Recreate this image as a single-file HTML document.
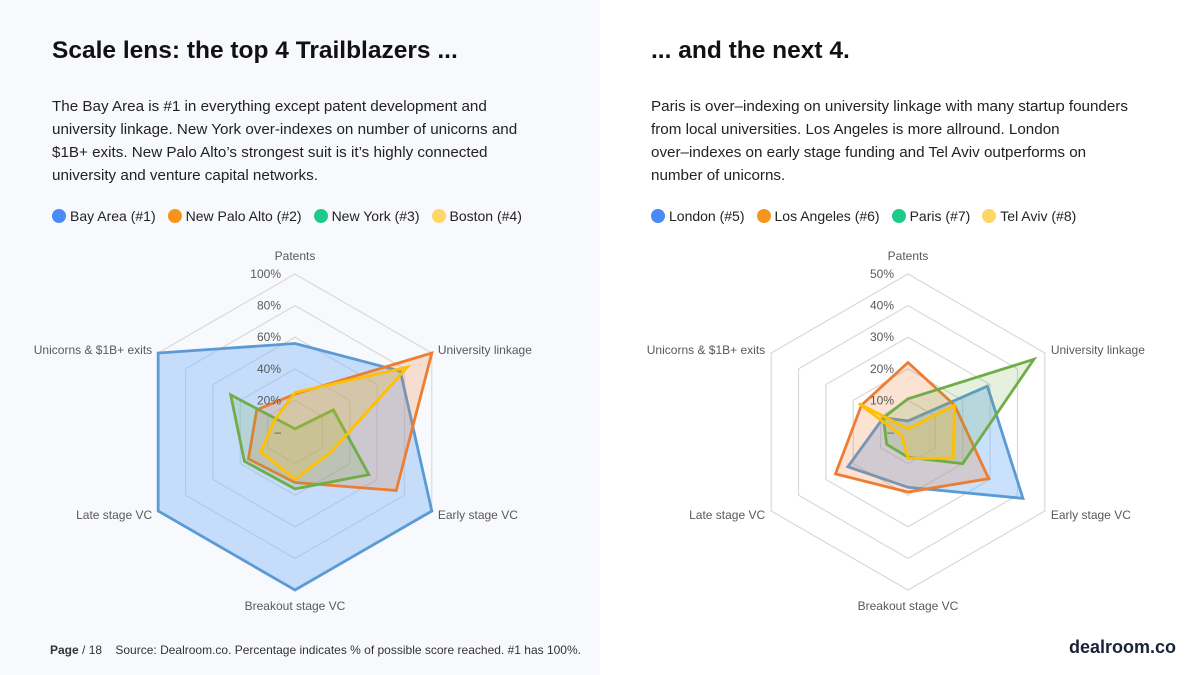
<!DOCTYPE html>
<html><head><meta charset="utf-8"><style>
body{margin:0;width:1200px;height:675px;overflow:hidden;background:#fff;font-family:"Liberation Sans",sans-serif;position:relative}
.panel{position:absolute;left:0;top:0;width:600px;height:675px;background:#f8f9fc}
h1{position:absolute;margin:0;font-size:24.5px;font-weight:bold;color:#111;top:37px;white-space:nowrap}
p{position:absolute;margin:0;font-size:15.2px;line-height:23px;color:#222;top:95px;white-space:nowrap}
.legend{position:absolute;top:208px;font-size:14px;color:#222;display:flex;gap:12px;white-space:nowrap}
.legend span{display:flex;align-items:center}
.legend i{display:inline-block;width:14px;height:14px;border-radius:50%;margin-right:4px}
svg{position:absolute;left:0;top:0}
.foot{position:absolute;left:50px;top:643px;font-size:12px;color:#333}
.logo{position:absolute;right:24px;top:637px;font-size:18px;font-weight:bold;color:#1a2238}
</style></head><body>
<div class="panel"></div>
<h1 style="left:52px">Scale lens: the top 4 Trailblazers ...</h1>
<h1 style="left:651px">... and the next 4.</h1>
<p style="left:52px">The Bay Area is #1 in everything except patent development and<br>university linkage. New York over-indexes on number of unicorns and<br>$1B+ exits. New Palo Alto’s strongest suit is it’s highly connected<br>university and venture capital networks.</p>
<p style="left:651px">Paris is over–indexing on university linkage with many startup founders<br>from local universities. Los Angeles is more allround. London<br>over–indexes on early stage funding and Tel Aviv outperforms on<br>number of unicorns.</p>
<div class="legend" style="left:52px">
<span><i style="background:#4a8af4"></i>Bay Area (#1)</span>
<span><i style="background:#f7941d"></i>New Palo Alto (#2)</span>
<span><i style="background:#1fc98a"></i>New York (#3)</span>
<span><i style="background:#ffd766"></i>Boston (#4)</span>
</div>
<div class="legend" style="left:651px">
<span><i style="background:#4a8af4"></i>London (#5)</span>
<span><i style="background:#f7941d"></i>Los Angeles (#6)</span>
<span><i style="background:#1fc98a"></i>Paris (#7)</span>
<span><i style="background:#ffd766"></i>Tel Aviv (#8)</span>
</div>
<svg id="chart" width="1200" height="675"></svg>
<div class="foot"><b>Page</b> / 18 &nbsp;&nbsp; Source: Dealroom.co. Percentage indicates % of possible score reached. #1 has 100%.</div>
<div class="logo">dealroom.co</div>
<script>
const categories=["Patents","University linkage","Early stage VC","Breakout stage VC","Late stage VC","Unicorns & $1B+ exits"];
const leftSeriesNames=["Bay Area","New Palo Alto","New York","Boston"];
const bayArea=[56,77,100,100,100,100];
const newPaloAlto=[24,100,74,32,34,28];
const newYork=[2,28,54,36,37,47];
const boston=[25,82,26,30,25,15];
const leftTicks=["–","20%","40%","60%","80%","100%"];
const leftMax=100;
const rightSeriesNames=["London","Los Angeles","Paris","Tel Aviv"];
const london=[3.5,29,42,17.5,22,9];
const losAngeles=[22,17,29.5,19,26.5,17];
const paris=[10.5,46,20,8,7.8,9];
const telAviv=[1,17,16.5,8.4,2.3,18];
const rightTicks=["–","10%","20%","30%","40%","50%"];
const rightMax=50;

const NS="http://www.w3.org/2000/svg";
const svg=document.getElementById('chart');
const strokes=["#5b9bd5","#ed7d31","#70ad47","#ffc000"];
const fills=["rgba(120,180,250,0.4)","rgba(237,125,49,0.22)","rgba(112,173,71,0.18)","rgba(255,192,0,0.18)"];
const R=158;
function mk(tag,attrs){const e=document.createElementNS(NS,tag);for(const k in attrs)e.setAttribute(k,attrs[k]);svg.appendChild(e);return e;}
function pt(cx,cy,i,r){const a=-Math.PI/2+i*Math.PI/3;return [cx+r*Math.cos(a),cy+r*Math.sin(a)];}
function radar(cx,cy,max,ticks,series,names,key){
  for(let t=1;t<ticks.length;t++){
    const r=R*t/(ticks.length-1);
    const pts=categories.map((c,i)=>pt(cx,cy,i,r).join(',')).join(' ');
    const g=mk('polygon',{points:pts,fill:'none',stroke:'#d9d9d9','stroke-width':1.2});
    
    
  }
  series.forEach((vals,s)=>{
    const pts=vals.map((v,i)=>pt(cx,cy,i,R*v/max).join(',')).join(' ');
    const p=mk('polygon',{points:pts,fill:fills[s],stroke:strokes[s],'stroke-width':2.8,'stroke-linejoin':'miter'});
    
    
  });
  ticks.forEach((t,k)=>{
    const y=cy-R*k/(ticks.length-1);
    const tx=mk('text',{x:cx-14,y:y+4,'text-anchor':'end','font-size':12,fill:'#595959','font-family':'Liberation Sans, sans-serif'});
    tx.textContent=t;
    
    
  });
  const lp=[[0,-172,'middle'],[6,1,'start'],[6,8,'start'],[0,178,'middle'],[-6,8,'end'],[-6,1,'end']];
  categories.forEach((c,i)=>{
    const [x,y]=pt(cx,cy,i,R);
    const o=lp[i];
    let X=(i==0||i==3)?cx:x+o[0];
    let Y=(i==0||i==3)?cy+o[1]:y+o[1];
    const tx=mk('text',{x:X,y:Y,'text-anchor':o[2],'font-size':12,fill:'#595959','font-family':'Liberation Sans, sans-serif'});
    tx.textContent=c;
    
    
  });
}
radar(295,432,leftMax,leftTicks,[bayArea,newPaloAlto,newYork,boston],leftSeriesNames,'left');
radar(908,432,rightMax,rightTicks,[london,losAngeles,paris,telAviv],rightSeriesNames,'right');
</script>
</body></html>
